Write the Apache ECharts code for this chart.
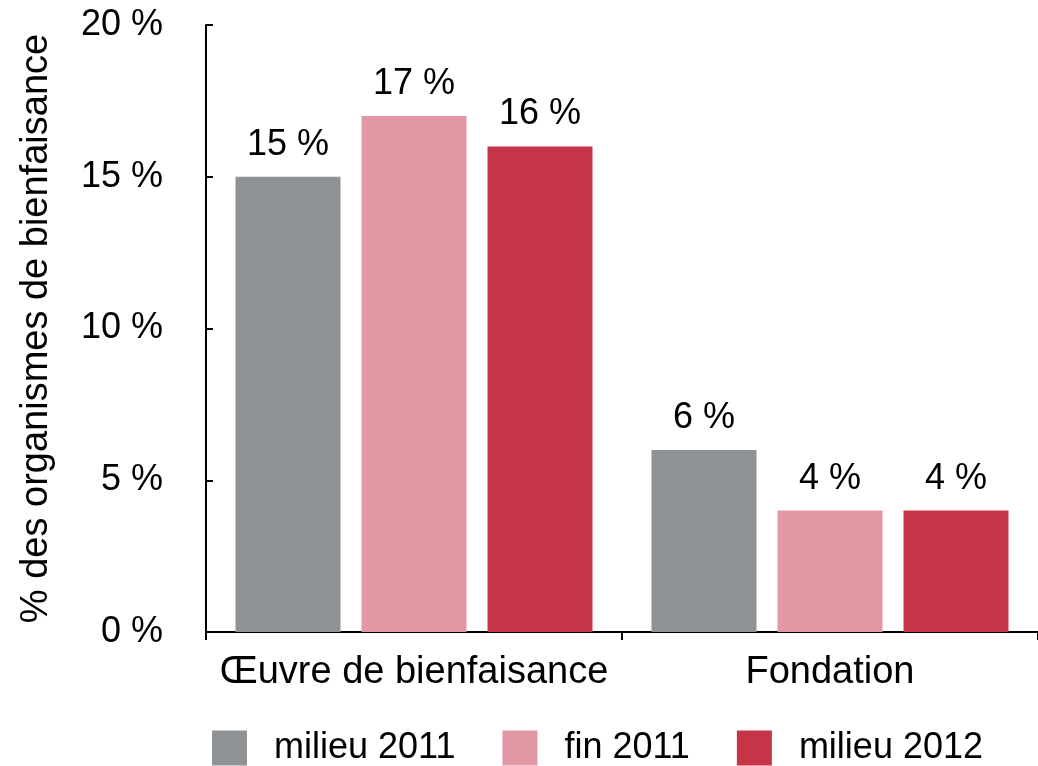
<html>
<head>
    <title></title>
    <script src="https://cdn.jsdelivr.net/npm/echarts@6/dist/echarts.min.js" type="text/javascript"></script>
</head>
<body style="margin:0;">
    <div id="barDiv" style="width:1038px;height:766px;background:#ffffff;"></div>
</body>
<script type="text/javascript" charset="utf-8">
        var categories = ['Œuvre de bienfaisance', 'Fondation'];
        var seriesNames = ['milieu 2011', 'fin 2011', 'milieu 2012'];
        var milieu2011 = [15, 6];
        var fin2011 = [17, 4];
        var milieu2012 = [16, 4];
        var colors = ['#8f9295', '#e298a4', '#c53447'];
        var fontName = 'Liberation Sans';

        function makeSeries(name, data, color) {
            return {
                name: name,
                type: 'bar',
                data: data,
                barWidth: 105,
                barGap: '20%',
                itemStyle: { color: color },
                label: {
                    show: true,
                    position: 'top',
                    distance: 14,
                    color: '#000',
                    fontFamily: fontName,
                    fontSize: 36,
                    formatter: '{c} %'
                }
            };
        }

        var barChart = echarts.init(document.getElementById("barDiv"));
        var option = {
            animation: false,
            grid: { left: 206, right: 0, top: 25, bottom: 134 },
            legend: {
                left: 207,
                top: 725,
                itemWidth: 35,
                itemHeight: 35,
                itemGap: 47,
                icon: 'rect',
                textStyle: { fontFamily: fontName, fontSize: 36, color: '#000', padding: [0, 0, 0, 22] },
                data: seriesNames
            },
            xAxis: {
                type: 'category',
                data: categories,
                axisLine: { lineStyle: { color: '#000', width: 2 } },
                axisTick: { show: true, interval: 0, length: 8, lineStyle: { color: '#000', width: 2 } },
                axisLabel: { interval: 0, color: '#000', fontFamily: fontName, fontSize: 38, margin: 22 }
            },
            yAxis: {
                type: 'value',
                min: 0,
                max: 20,
                interval: 5,
                name: '% des organismes de bienfaisance',
                nameLocation: 'middle',
                nameGap: 150,
                nameTextStyle: { color: '#000', fontFamily: fontName, fontSize: 38 },
                splitLine: { show: false },
                axisLine: { show: true, lineStyle: { color: '#000', width: 2 } },
                axisTick: { show: true, inside: true, length: 7, lineStyle: { color: '#000', width: 2 } },
                axisLabel: { color: '#000', fontFamily: fontName, fontSize: 36, margin: 43, formatter: '{value} %' }
            },
            series: [
                makeSeries(seriesNames[0], milieu2011, colors[0]),
                makeSeries(seriesNames[1], fin2011, colors[1]),
                makeSeries(seriesNames[2], milieu2012, colors[2])
            ]
        };
        barChart.setOption(option);
</script>
</html>
